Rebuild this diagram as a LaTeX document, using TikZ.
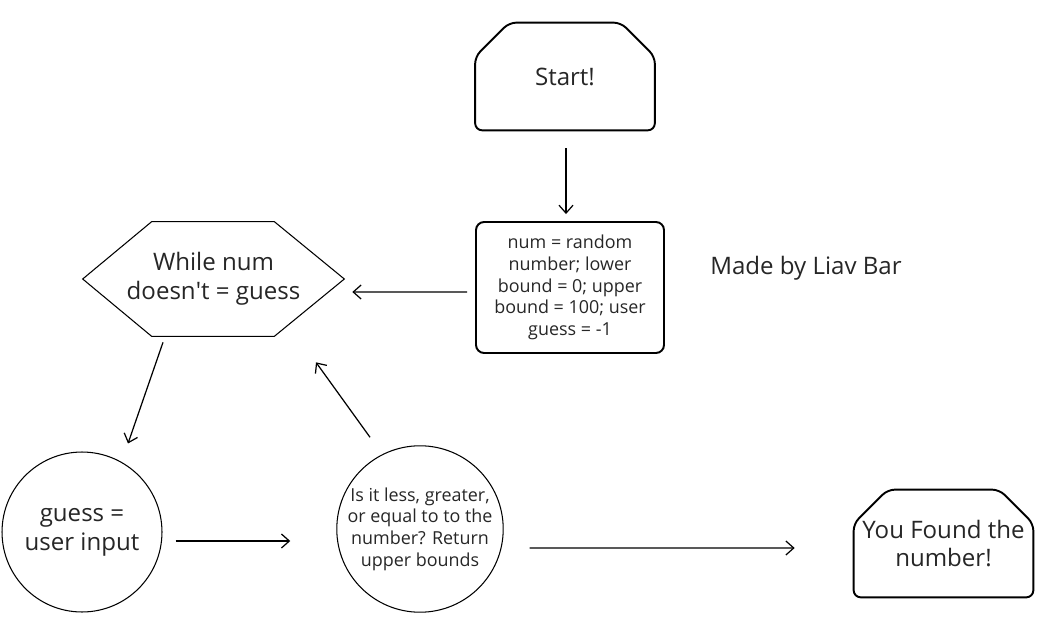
\documentclass[tikz,border=0pt]{standalone}
\usepackage{fontspec}
\setmainfont{Open Sans}
\usetikzlibrary{positioning,arrows.meta}

\tikzset{
  bigtext/.style={font=\fontsize{13.7}{16.4}\selectfont, align=center, text=black!85},
  smalltext/.style={font=\fontsize{10.2}{12.3}\selectfont, align=center, text=black!85},
  termbox/.style={rectangle, inner sep=0pt, minimum width=3.58cm, minimum height=2.14cm, bigtext},
  setbox/.style={rectangle, draw, line width=1.1pt, rounded corners=0.16cm, inner sep=0pt,
    minimum width=3.76cm, minimum height=2.62cm, smalltext},
  loopbox/.style={rectangle, inner sep=0pt, minimum width=5.22cm, minimum height=2.28cm, bigtext},
  stepnode/.style={circle, draw, line width=0.6pt, inner sep=0pt},
  arr/.style={-{Straight Barb[length=4.5pt,width=8pt]}, line width=0.7pt}
}

% outline of a start/stop box: top corners cut off
\newcommand{\termoutline}[1]{%
  \draw[line width=1.1pt, rounded corners=0.14cm] (#1.south) -- (#1.south east)
    -- ([yshift=-0.68cm]#1.north east) -- ([xshift=-0.68cm]#1.north east)
    -- ([xshift=0.68cm]#1.north west) -- ([yshift=-0.68cm]#1.north west)
    -- (#1.south west) -- cycle;}

\begin{document}
\begin{tikzpicture}[x=0.02cm, y=-0.02cm]

    \useasboundingbox (0,0) rectangle (1051,628);

    % boxes
    \node[termbox] (start) at (565,76.5) {Start!};
    \termoutline{start}
    \node[setbox] (init) at (570,287.5) {num = random\\number; lower\\bound = 0; upper\\bound = 100; user\\guess = -1};
    \node[loopbox] (hex) at (213.5,279) {While num\\doesn\textquotesingle t = guess};
    \draw[line width=0.6pt] (hex.west) -- ([xshift=1.38cm]hex.north west) -- ([xshift=-1.4cm]hex.north east)
        -- (hex.east) -- ([xshift=-1.4cm]hex.south east) -- ([xshift=1.38cm]hex.south west) -- cycle;
    \node[stepnode, minimum size=3.2cm, bigtext] (guess) at (82,532) {guess =\\user input};
    \node[stepnode, minimum size=3.12cm, smalltext] (check) at (420,529) {Is it less, greater,\\or equal to to the\\number? Return\\upper bounds};
    \node[termbox] (found) at (943.5,543.5) {You Found the\\number!};
    \termoutline{found}
    \node[bigtext] (credit) at (806,268) {Made by Liav Bar};

    % arrows
    \draw[arr] ([shift={(1,18)}]start.south) -- ([shift={(-4,-7)}]init.north);
    \draw[arr] ([shift={(-8,4.5)}]init.west) -- ([shift={(8,13)}]hex.east);
    \draw[arr] ([shift={(-50.5,6)}]hex.south) -- ([shift={(46,-8)}]guess.north);
    \draw[arr] ([shift={(13,9)}]guess.east) -- ([shift={(-46,12)}]check.west);
    \draw[arr] ([shift={(-50,-8)}]check.north) -- ([shift={(102.5,26)}]hex.south);
    \draw[arr] ([shift={(26,19)}]check.east) -- ([shift={(-59,4.5)}]found.west);

\end{tikzpicture}
\end{document}
